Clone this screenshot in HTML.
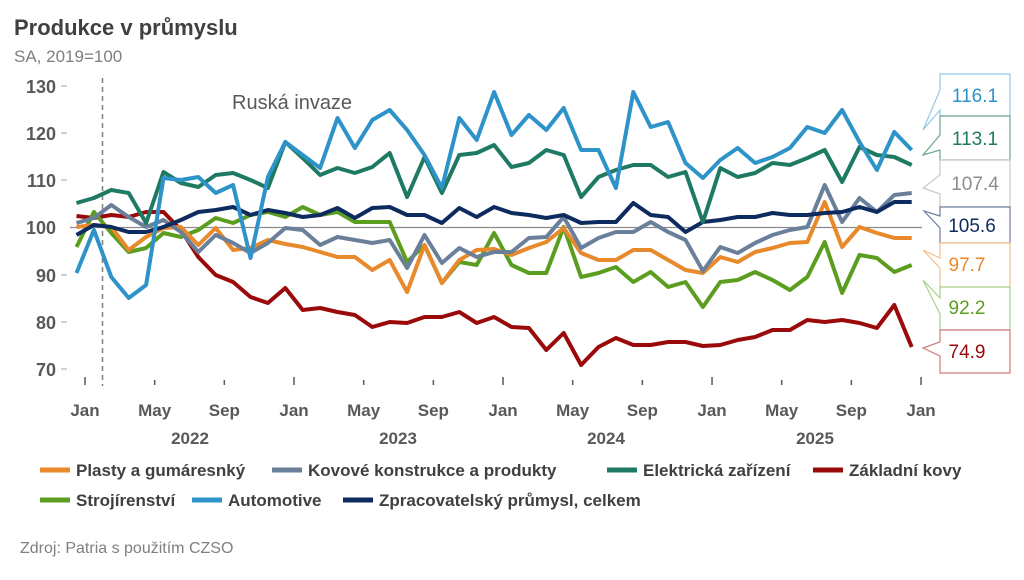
<!DOCTYPE html>
<html><head><meta charset="utf-8"><style>
body{margin:0;background:#fff;width:1024px;height:575px;overflow:hidden}
svg{font-family:"Liberation Sans",sans-serif}
</style></head><body>
<svg id="s" width="1024" height="575" viewBox="0 0 1024 575">
<text x="14" y="35" font-size="22" font-weight="bold" fill="#404040">Produkce v průmyslu</text>
<text x="14" y="62" font-size="17" fill="#7f7f7f">SA, 2019=100</text>
<g font-size="18" font-weight="bold" fill="#595959" text-anchor="end">
<text x="56" y="93">130</text><text x="56" y="140">120</text><text x="56" y="187">110</text>
<text x="56" y="234">100</text><text x="56" y="282">90</text><text x="56" y="329">80</text><text x="56" y="376">70</text>
</g>
<g stroke="#a6a6a6" stroke-width="1">
<line x1="61" y1="86" x2="67" y2="86"/><line x1="61" y1="133" x2="67" y2="133"/><line x1="61" y1="180" x2="67" y2="180"/>
<line x1="61" y1="275" x2="67" y2="275"/><line x1="61" y1="322" x2="67" y2="322"/><line x1="61" y1="369" x2="67" y2="369"/>
</g>
<line x1="70" y1="227.5" x2="922" y2="227.5" stroke="#8c8c8c" stroke-width="1.2"/>
<line x1="102.5" y1="78" x2="102.5" y2="386" stroke="#7f7f7f" stroke-width="1.5" stroke-dasharray="5,4"/>
<text x="232" y="109" font-size="20" fill="#595959">Ruská invaze</text>
<g id="ticks" stroke="#595959" stroke-width="1.5"></g>
<g id="xl" font-size="17" font-weight="bold" fill="#595959" text-anchor="middle">
<text x="190" y="444">2022</text><text x="398" y="444">2023</text><text x="606" y="444">2024</text><text x="815" y="444">2025</text>
</g>
<g id="lines" fill="none" stroke-width="4" stroke-linejoin="round"></g>
<g font-size="19" text-anchor="middle" stroke-width="1.2">
<polygon points="940,74 1010,74 1010,116 940,116 940,110 923,130 940,90" fill="#fff" stroke="#8fcbe6"/>
<text x="975" y="102" fill="#2e93c8">116.1</text>
<polygon points="940,116 1010,116 1010,160 940,160 940,150 923,155 940,135" fill="#fff" stroke="#6aa596"/>
<text x="975" y="145" fill="#1f7a63">113.1</text>
<polygon points="940,160 1010,160 1010,207 940,207 940,194 923,188 940,175" fill="#fff" stroke="#c8c8c8"/>
<text x="975" y="190" fill="#8c8c8c">107.4</text>
<polygon points="940,207 1010,207 1010,243 940,243 940,228 924,211 940,216" fill="#fff" stroke="#6d7f9e"/>
<text x="972" y="232" fill="#0d2b5e">105.6</text>
<polygon points="940,243 1010,243 1010,287 940,287 940,268 923,250 940,258" fill="#fff" stroke="#f3bf8a"/>
<text x="967" y="271" fill="#e8892b">97.7</text>
<polygon points="940,287 1010,287 1010,330 940,330 940,314 923,280 940,298" fill="#fff" stroke="#a9cf88"/>
<text x="967" y="314" fill="#5b9e1f">92.2</text>
<polygon points="940,330 1010,330 1010,373 940,373 940,356 923,348 940,342" fill="#fff" stroke="#d07a7a"/>
<text x="967" y="358" fill="#9b0a0a">74.9</text>
</g>
<g font-size="17" font-weight="bold" fill="#404040">
<line x1="40" y1="470" x2="70" y2="470" stroke="#e8892b" stroke-width="5"/><text x="76" y="476">Plasty a gumáresnký</text>
<line x1="272" y1="470" x2="302" y2="470" stroke="#6a7f9a" stroke-width="5"/><text x="308" y="476">Kovové konstrukce a produkty</text>
<line x1="607" y1="470" x2="637" y2="470" stroke="#1f7a63" stroke-width="5"/><text x="643" y="476">Elektrická zařízení</text>
<line x1="813" y1="470" x2="843" y2="470" stroke="#9b0a0a" stroke-width="5"/><text x="849" y="476">Základní kovy</text>
<line x1="40" y1="500" x2="70" y2="500" stroke="#5b9e1f" stroke-width="5"/><text x="76" y="506">Strojírenství</text>
<line x1="192" y1="500" x2="222" y2="500" stroke="#2e93c8" stroke-width="5"/><text x="228" y="506">Automotive</text>
<line x1="343" y1="500" x2="373" y2="500" stroke="#0d2b5e" stroke-width="5"/><text x="379" y="506">Zpracovatelský průmysl, celkem</text>
</g>
<text x="20" y="553" font-size="16" fill="#7f7f7f">Zdroj: Patria s použitím CZSO</text>
</svg>
<script>
var NS="http://www.w3.org/2000/svg";
var months=["Jan","May","Sep"];
var tk=document.getElementById("ticks"),xl=document.getElementById("xl");
for(var k=0;k<13;k++){var x=85+k*69.67;
var l=document.createElementNS(NS,"line");l.setAttribute("x1",x);l.setAttribute("x2",x);l.setAttribute("y1",k%3==0?377:380);l.setAttribute("y2",385);tk.appendChild(l);
var t=document.createElementNS(NS,"text");t.setAttribute("x",x);t.setAttribute("y",416);t.textContent=months[k%3];xl.appendChild(t);}
var S=[
["#9b0a0a",[216,218,215,217,212,212,230,257,275,282,297,303,288,310,308,312,315,327,322,323,317,317,312,323,317,327,328,350,333,365,347,338,345,345,342,342,346,345,340,337,330,330,320,322,320,323,328,305,347]],
["#5b9e1f",[247,212,233,252,248,233,237,230,218,223,215,212,217,207,215,212,222,222,222,262,245,283,262,265,233,265,273,273,227,277,273,267,282,272,287,282,307,282,280,272,280,290,277,242,293,255,258,272,265]],
["#e8892b",[227,225,227,250,237,228,227,245,228,250,248,240,244,247,252,257,257,270,260,292,245,283,260,250,249,255,248,242,228,253,260,260,250,250,260,270,273,257,262,252,248,243,242,202,247,227,233,238,238]],
["#6a7f9a",[223,218,205,217,227,220,232,252,235,243,253,243,228,230,245,237,240,243,240,268,235,263,248,257,252,252,238,237,217,248,238,232,232,222,232,240,271,247,253,243,235,230,227,185,222,198,212,195,193]],
["#0d2b5e",[235,225,227,232,232,227,220,212,210,207,215,210,213,217,215,208,218,208,207,215,215,223,208,217,207,213,215,218,215,223,222,222,203,215,217,232,222,220,217,217,213,215,215,213,212,207,212,202,202]],
["#1f7a63",[203,198,190,193,223,172,183,187,175,173,180,188,142,158,175,168,173,167,153,197,157,193,155,153,145,167,163,150,155,197,177,170,165,165,177,172,222,168,177,173,163,165,158,150,182,147,155,157,165]],
["#2e93c8",[273,230,277,298,285,178,180,177,193,185,258,177,142,155,168,118,148,120,110,130,155,188,118,140,92,135,115,130,108,150,150,188,92,127,122,163,178,160,148,163,157,148,127,133,110,142,170,132,150]]
];
var g=document.getElementById("lines");
S.forEach(function(s){var p=s[1].map(function(y,i){return (76.5+17.4*i).toFixed(1)+","+y}).join(" ");
var pl=document.createElementNS(NS,"polyline");pl.setAttribute("points",p);pl.setAttribute("stroke",s[0]);g.appendChild(pl);});
</script>
</body></html>
